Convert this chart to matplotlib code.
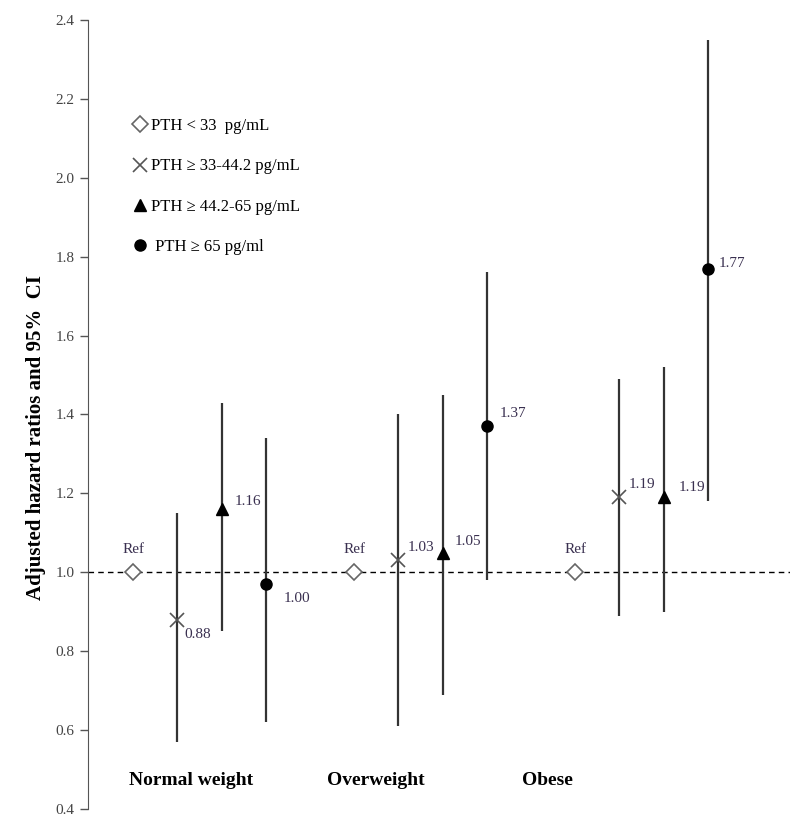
import numpy as np
import matplotlib
matplotlib.use("Agg")
import matplotlib.pyplot as plt

# weight groups and PTH categories
groups = ['Normal weight', 'Overweight', 'Obese']
pth_labels = ['PTH < 33  pg/mL', 'PTH \u2265 33-44.2 pg/mL',
              'PTH \u2265 44.2-65 pg/mL', ' PTH \u2265 65 pg/ml']

# hazard ratios (reference category = 1.0)
hr_ref = [1.00, 1.00, 1.00]
hr_q2 = [0.88, 1.03, 1.19]
hr_q3 = [1.16, 1.05, 1.19]
hr_q4 = [0.97, 1.37, 1.77]

lo_q2 = [0.57, 0.61, 0.89]
hi_q2 = [1.15, 1.40, 1.49]
lo_q3 = [0.85, 0.69, 0.90]
hi_q3 = [1.43, 1.45, 1.52]
lo_q4 = [0.62, 0.98, 1.18]
hi_q4 = [1.34, 1.76, 2.35]

lab_q2 = ['0.88', '1.03', '1.19']
lab_q3 = ['1.16', '1.05', '1.19']
lab_q4 = ['1.00', '1.37', '1.77']

serif = ['Liberation Serif', 'DejaVu Serif']
plt.rcParams['font.family'] = serif

fig = plt.figure(figsize=(8, 8.27), dpi=100)
ax = fig.add_axes([0.11, 0.0218, 0.8775, 0.954])

base = np.arange(len(groups)) * 5.0
line_c = '#333333'
lab_c = '#3a3050'

ax.axhline(1.0, color='black', lw=1.0, ls=(0, (4, 3)), zorder=1)

series = [
    (hr_ref, None, None, dict(marker='D', ms=8, mfc='white', mec='#666666', mew=1.2)),
    (hr_q2, lo_q2, hi_q2, dict(marker='x', ms=10, mec='#555555', mew=1.2)),
    (hr_q3, lo_q3, hi_q3, dict(marker='^', ms=9, mfc='black', mec='black')),
    (hr_q4, lo_q4, hi_q4, dict(marker='o', ms=8, mfc='black', mec='black')),
]
for j, (hr, lo, hi, style) in enumerate(series):
    x = base + j
    if lo is not None:
        ax.vlines(x, lo, hi, color=line_c, lw=1.6, zorder=2)
    ax.plot(x, hr, ls='none', zorder=3, label=pth_labels[j], **style)

# value labels (offsets in pixels)
for i in range(len(groups)):
    ax.annotate('Ref', (base[i], hr_ref[i]), xytext=(0, 23), textcoords='offset pixels',
                ha='center', va='center', fontsize=11, color=lab_c)
offs_q2 = [(20, -15), (23, 13), (23, 13)]
offs_q3 = [(26, 8), (25, 11), (28, 10)]
offs_q4 = [(31, -14), (26, 13), (24, 5)]
for hr, labs, offs, j in [(hr_q2, lab_q2, offs_q2, 1), (hr_q3, lab_q3, offs_q3, 2),
                          (hr_q4, lab_q4, offs_q4, 3)]:
    for i in range(len(groups)):
        ax.annotate(labs[i], (base[i] + j, hr[i]), xytext=offs[i], textcoords='offset pixels',
                    ha='center', va='center', fontsize=11, color=lab_c)

# group names inside the plot area
group_x = [1.31, 5.48, 9.37]
for gx, g in zip(group_x, groups):
    ax.text(gx, 0.471, g, ha='center', va='center', fontsize=14, fontweight='bold')

ax.set_xlim(-1.02, 14.86)
ax.set_ylim(0.4, 2.4)
ax.set_yticks(np.arange(0.4, 2.41, 0.2))
ax.set_yticklabels(['%.1f' % v for v in np.arange(0.4, 2.41, 0.2)], fontsize=11, color='#444444')
ax.tick_params(axis='y', direction='out', length=6, width=1, color='#555555')
ax.set_xticks([])
for s in ['top', 'right', 'bottom']:
    ax.spines[s].set_visible(False)
ax.spines['left'].set_color('#555555')

ax.set_ylabel('Adjusted hazard ratios and 95%  CI', fontsize=15, fontweight='bold')
ax.yaxis.set_label_coords(-0.06, 0.471)

ax.legend(loc='upper left', bbox_to_anchor=(0.057, 0.884), frameon=False, fontsize=12,
          labelspacing=1.45, handlelength=0.6, handletextpad=0.35, borderaxespad=0)

fig.savefig('out.png', dpi=100)
